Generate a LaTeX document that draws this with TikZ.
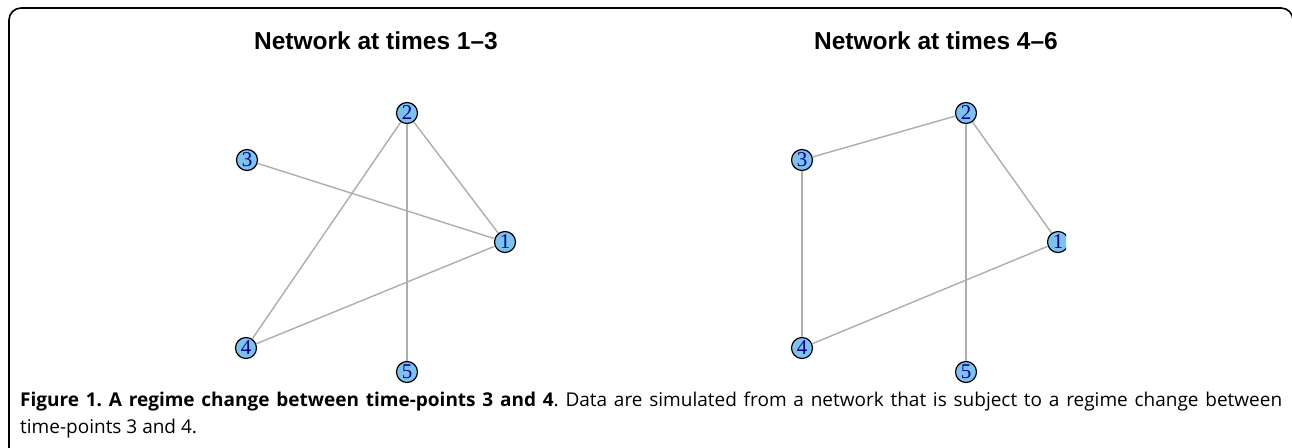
\documentclass[tikz,border=0pt]{standalone}
\usepackage{fontspec}
\setmainfont{Open Sans}
\newfontfamily\titlefont{Liberation Sans}
\newfontfamily\labelfont{Liberation Serif}
\usepackage{xcolor}
\definecolor{vertexblue}{HTML}{7EC0EE}
\definecolor{labelblue}{RGB}{0,0,139}
\definecolor{edgegray}{HTML}{ADADAD}

\begin{document}
\frenchspacing
\begin{tikzpicture}[x=1pt,y=-1pt]

        % 1. Page size and the frame round the figure
        \useasboundingbox (0,0) rectangle (1292,447);
        \draw[line width=1.6pt, rounded corners=12pt] (9,449) -- (9,8) -- (1293,8) -- (1293,449);

        \tikzset{vertex/.style={circle, draw=black, line width=1.2pt, fill=vertexblue, minimum size=21pt, inner sep=0pt, font=\labelfont\fontsize{21}{21}\selectfont, text=labelblue}} % igraph look
        \tikzset{link/.style={draw=edgegray, line width=1.4pt}}
        \tikzset{paneltitle/.style={font=\titlefont\bfseries\fontsize{24.5}{29}\selectfont}}

        % 2. Left panel: network at times 1-3
        \node[paneltitle] (titleA) at (376,41) {Network at times 1\textendash 3};

        \node[vertex] (a1) at (505,242) {1};
        \node[vertex] (a2) at (407,113) {2};
        \node[vertex] (a3) at (247,160) {3};
        \node[vertex] (a4) at (246,348) {4};
        \node[vertex] (a5) at (407,372) {5};

        \draw[link] (a3) -- (a1);
        \draw[link] (a2) -- (a1);
        \draw[link] (a2) -- (a4);
        \draw[link] (a2) -- (a5);
        \draw[link] (a4) -- (a1);

        % 3. Right panel: network at times 4-6 (vertex 1 is cut at the plot edge)
        \node[paneltitle] (titleB) at (936,41) {Network at times 4\textendash 6};

        \begin{scope}
            \clip (700,60) rectangle (1066,420);
            \node[vertex] (b1) at (1058,242) {1};
            \node[vertex] (b2) at (966,113) {2};
            \node[vertex] (b3) at (802,160) {3};
            \node[vertex] (b4) at (802,348) {4};
            \node[vertex] (b5) at (966,372) {5};

            \draw[link] (b3) -- (b2);
            \draw[link] (b2) -- (b1);
            \draw[link] (b2) -- (b5);
            \draw[link] (b3) -- (b4);
            \draw[link] (b4) -- (b1);
        \end{scope}

        % 4. Caption
        \node[anchor=north west, text width=1262pt, align=justify, inner sep=0pt, font=\fontsize{19}{27}\selectfont] (caption) at (20,392)
            {\textbf{Figure 1. A regime change between time-points 3 and 4}. Data are simulated from a network that is subject to a regime change between\linebreak time-points 3 and 4.};

\end{tikzpicture}
\end{document}
